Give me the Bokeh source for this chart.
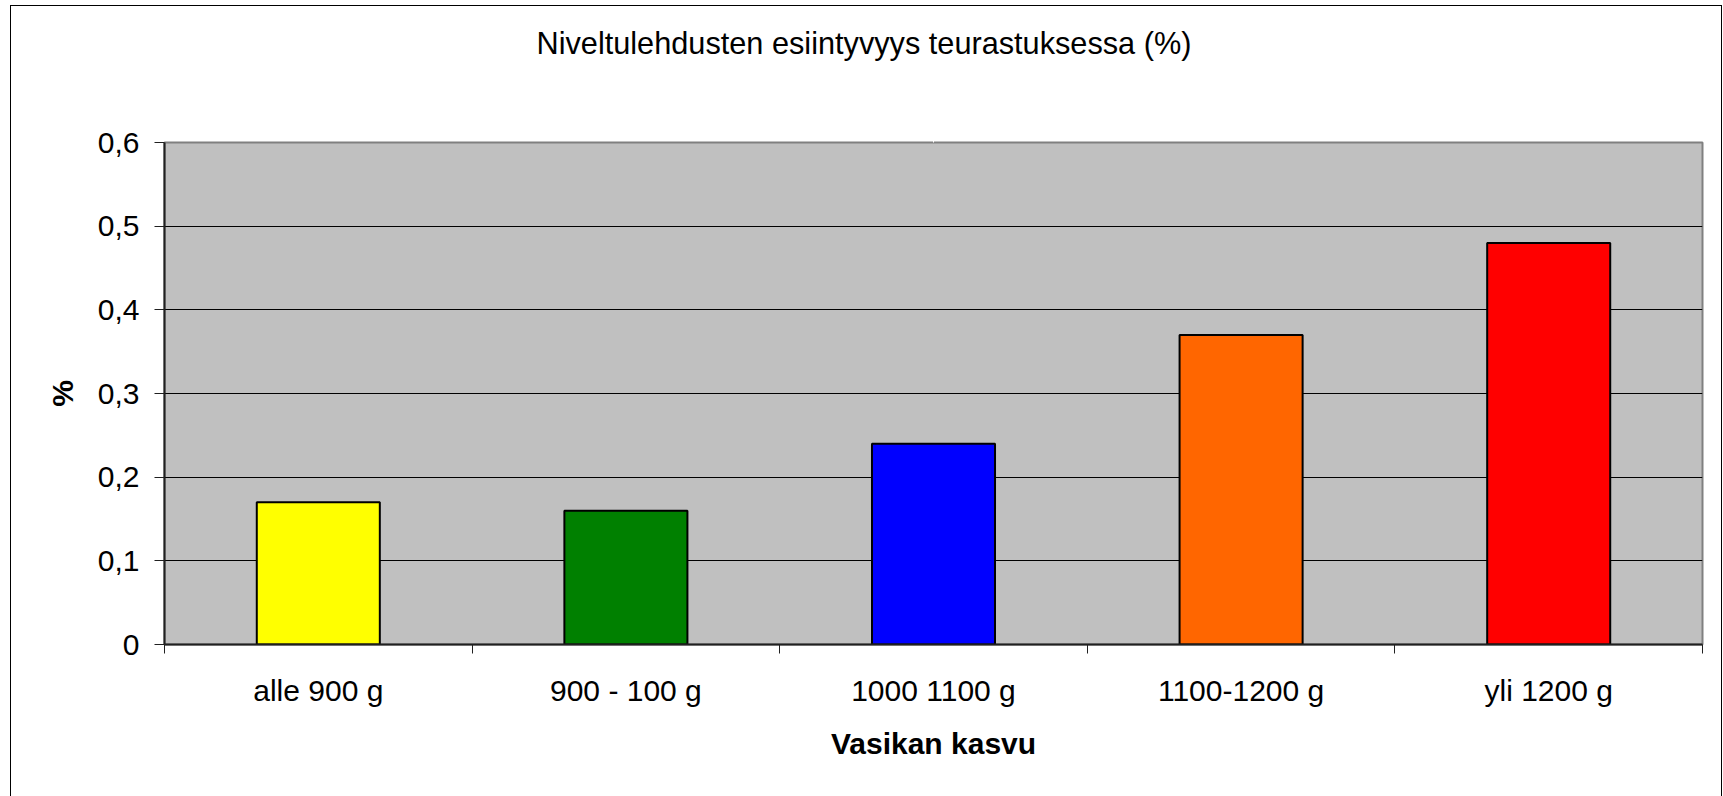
from bokeh.plotting import figure
from bokeh.models import Range1d, FixedTicker, ColumnDataSource, LinearAxis
from bokeh.embed import file_html
from bokeh.resources import INLINE

# ---- data ----
categories = ["alle 900 g", "900 - 100 g", "1000 1100 g", "1100-1200 g", "yli 1200 g"]
values = [0.17, 0.16, 0.24, 0.37, 0.48]
colors = ["#FFFF00", "#008000", "#0000FF", "#FF6600", "#FF0000"]
y_ticks = [0, 0.1, 0.2, 0.3, 0.4, 0.5, 0.6]
y_tick_labels = ["0", "0,1", "0,2", "0,3", "0,4", "0,5", "0,6"]
chart_title = "Niveltulehdusten esiintyvyys teurastuksessa (%)"
x_title = "Vasikan kasvu"
y_title = "%"

FONT = "Liberation Sans"
W, H = 1710, 790
FRAME_L, FRAME_T, FRAME_R, FRAME_B = 153, 136, 19, 152

n = len(categories)
centers = [i + 0.5 for i in range(n)]
bounds = [float(i) for i in range(n + 1)]

src = ColumnDataSource(dict(x=centers, top=values, color=colors, cat=categories))

p = figure(width=W, height=H, x_range=Range1d(0, n), y_range=Range1d(0, y_ticks[-1]),
           output_backend="svg", toolbar_location=None, title=chart_title,
           min_border_left=FRAME_L, min_border_right=FRAME_R,
           min_border_top=FRAME_T, min_border_bottom=FRAME_B)
p.styles = {"position": "absolute", "left": "11px", "top": "6px",
            "outline": "1px solid black"}

p.title.align = "left"
p.title.offset = 372
p.title.vertical_align = "top"
p.title.standoff = 35
p.title.text_font = FONT
p.title.text_font_size = "30.7px"
p.title.text_font_style = "normal"
p.title.text_color = "black"

xa = p.below[0]
ya = p.left[0]

# invisible spacer axis between title and plot area: one white tick, no visible label
spacer = LinearAxis(ticker=FixedTicker(ticks=[n / 2], minor_ticks=[]), axis_line_color=None,
                    major_tick_out=62, major_tick_in=0, minor_tick_out=0, minor_tick_in=0,
                    major_tick_line_color="white", major_tick_line_width=1,
                    minor_tick_line_color=None,
                    major_label_overrides={n / 2: ""},
                    major_label_text_font_size="0px", major_label_text_alpha=0,
                    major_label_standoff=0, axis_label_standoff=0)
p.add_layout(spacer, "above")

p.background_fill_color = "#C0C0C0"
p.border_fill_color = "white"
p.outline_line_color = "#808080"
p.outline_line_width = 2

# bars
p.vbar(x="x", top="top", bottom=0, width=0.4, fill_color="color",
       line_color="black", line_width=2, source=src)

# grid
p.xgrid.visible = False
p.ygrid.ticker = FixedTicker(ticks=y_ticks[1:-1])
p.ygrid.grid_line_color = "black"
p.ygrid.grid_line_width = 1

# y axis
ya.ticker = FixedTicker(ticks=y_ticks)
ya.major_label_overrides = {t: s for t, s in zip(y_ticks, y_tick_labels)}
ya.major_tick_out = 10
ya.major_tick_in = 0
ya.minor_tick_out = 0
ya.minor_tick_in = 0
ya.major_tick_line_color = "#202020"
ya.axis_line_color = "#202020"
ya.axis_line_width = 2
ya.major_label_standoff = 15
ya.major_label_text_font = FONT
ya.major_label_text_font_size = "30px"
ya.major_label_text_color = "black"
ya.axis_label = y_title
ya.axis_label_text_font = FONT
ya.axis_label_text_font_size = "30px"
ya.axis_label_text_font_style = "bold"
ya.axis_label_text_color = "black"
ya.axis_label_standoff = 16

# x axis
xa.ticker = FixedTicker(ticks=centers, minor_ticks=bounds)
xa.major_label_overrides = {c: s for c, s in zip(centers, categories)}
xa.major_tick_out = 0
xa.major_tick_in = 0
xa.minor_tick_out = 9
xa.minor_tick_in = 0
xa.minor_tick_line_color = "#202020"
xa.axis_line_color = "#202020"
xa.axis_line_width = 2
xa.major_label_standoff = 20
xa.major_label_text_font = FONT
xa.major_label_text_font_size = "30px"
xa.major_label_text_color = "black"
xa.axis_label = x_title
xa.axis_label_text_font = FONT
xa.axis_label_text_font_size = "30px"
xa.axis_label_text_font_style = "bold"
xa.axis_label_text_color = "black"
xa.axis_label_standoff = 17

open("out.html", "w").write(file_html(p, INLINE))
